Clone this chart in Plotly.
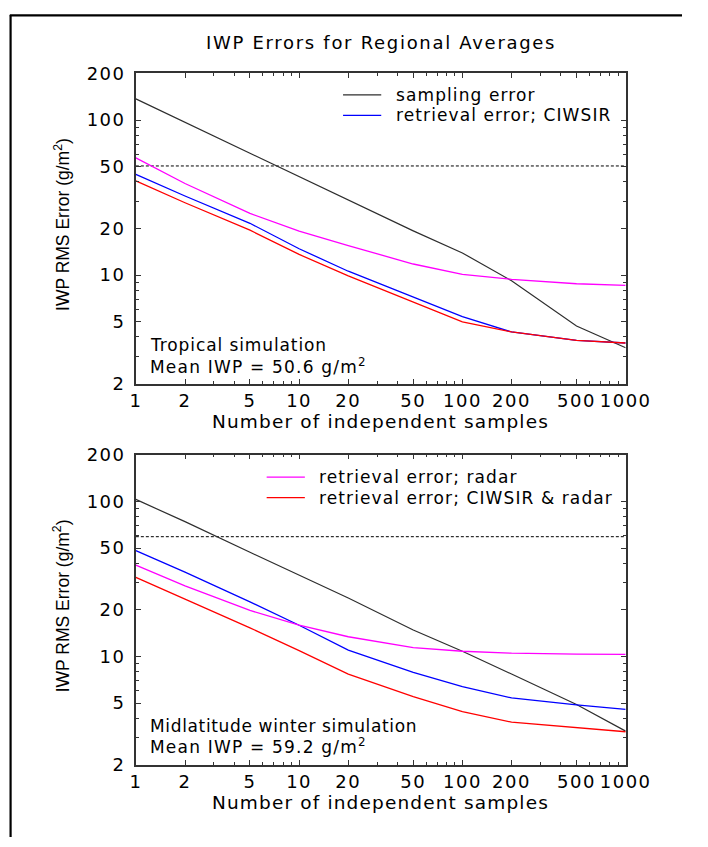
import plotly.graph_objects as go

# ---------------- data ----------------
samples = [1, 2, 5, 10, 20, 50, 100, 200, 500, 1000]

trop_sampling = [137, 97, 61, 43, 30.5, 19.3, 13.9, 9.2, 4.7, 3.4]
trop_ciwsir = [44.7, 32.4, 21.6, 14.8, 10.6, 7.2, 5.4, 4.3, 3.8, 3.65]
trop_radar = [57, 39, 25, 19.2, 15.5, 11.8, 10.1, 9.4, 8.8, 8.6]
trop_combined = [40.6, 29.3, 19.5, 13.6, 9.9, 6.7, 5.0, 4.3, 3.8, 3.65]

mid_sampling = [103, 74, 47, 33.5, 23.8, 14.8, 10.8, 7.7, 4.9, 3.3]
mid_ciwsir = [48.2, 35, 22.5, 15.9, 11.0, 7.9, 6.4, 5.4, 4.87, 4.56]
mid_radar = [38.8, 28.5, 19.8, 15.9, 13.4, 11.4, 10.8, 10.5, 10.35, 10.3]
mid_combined = [32.4, 23.5, 15.3, 10.9, 7.7, 5.5, 4.4, 3.77, 3.47, 3.27]

mean_iwp = [50.6, 59.2]
mean_x = [1, 1000]

x_ticks = [1, 2, 5, 10, 20, 50, 100, 200, 500, 1000]
x_minor = [3, 4, 6, 7, 8, 9, 30, 40, 60, 70, 80, 90, 300, 400, 600, 700, 800, 900]
y_ticks = [2, 5, 10, 20, 50, 100, 200]
y_minor = [3, 4, 6, 7, 8, 9, 30, 40, 60, 70, 80, 90]

title_text = "IWP Errors for Regional Averages"
x_title = "Number of independent samples"
y_title = "IWP RMS Error (g/m<sup>2</sup>)"
series_names = ["sampling error", "retrieval error; CIWSIR",
                "retrieval error; radar", "retrieval error; CIWSIR & radar"]
panel_labels = [["Tropical simulation", "Mean IWP = 50.6 g/m<sup>2</sup>"],
                ["Midlatitude winter simulation", "Mean IWP = 59.2 g/m<sup>2</sup>"]]

# ---------------- styling ----------------
W, H = 708, 847
FONT = "DejaVu Sans, Verdana, sans-serif"
FONT_Y = "Liberation Sans, Arial, Helvetica, sans-serif"
C_SAMP = "#2e2e2e"
C_CIW = "#0000ff"
C_RAD = "#ff00ff"
C_COMB = "#ff0000"
AX = "#333333"


def px(x):
    return x / W


def py(y):
    return 1 - y / H


def ls(text, sp):
    return f'<span style="letter-spacing:{sp}px">{text}</span>'


fig = go.Figure()

panels = [
    ("x", "y", trop_sampling, trop_ciwsir, trop_radar, trop_combined, mean_iwp[0]),
    ("x2", "y2", mid_sampling, mid_ciwsir, mid_radar, mid_combined, mean_iwp[1]),
]
for xa, ya, s, c, r, cb, m in panels:
    fig.add_trace(go.Scatter(x=mean_x, y=[m, m], mode="lines", xaxis=xa, yaxis=ya,
                             line=dict(color="#000000", width=1, dash="3px,2px")))
    fig.add_trace(go.Scatter(x=samples, y=s, mode="lines", xaxis=xa, yaxis=ya,
                             line=dict(color=C_SAMP, width=1.2)))
    fig.add_trace(go.Scatter(x=samples, y=c, mode="lines", xaxis=xa, yaxis=ya,
                             line=dict(color=C_CIW, width=1.3)))
    fig.add_trace(go.Scatter(x=samples, y=r, mode="lines", xaxis=xa, yaxis=ya,
                             line=dict(color=C_RAD, width=1.3)))
    fig.add_trace(go.Scatter(x=samples, y=cb, mode="lines", xaxis=xa, yaxis=ya,
                             line=dict(color=C_COMB, width=1.3)))

tickfont = dict(family=FONT, size=18, color="black")

xcommon = dict(type="log", range=[0, 3], tickmode="array", tickvals=x_ticks,
               ticktext=[ls(str(v), 1.5) for v in x_ticks],
               ticks="inside", ticklen=5, tickwidth=1, tickcolor=AX,
               showline=True, linecolor=AX, linewidth=1.5, mirror="allticks",
               showgrid=False, zeroline=False, tickfont=tickfont,
               ticklabelstandoff=0,
               minor=dict(tickmode="array", tickvals=x_minor, ticks="inside", ticklen=3,
                          tickcolor=AX, tickwidth=1, showgrid=False),
               domain=[px(136), px(649)])
ycommon = dict(type="log", range=[0.30103, 2.30103], tickmode="array", tickvals=y_ticks,
               ticktext=[ls(str(v), 1.5) for v in y_ticks],
               ticks="inside", ticklen=5, tickwidth=1, tickcolor=AX,
               showline=True, linecolor=AX, linewidth=1.5, mirror="allticks",
               showgrid=False, zeroline=False, tickfont=tickfont,
               ticklabelstandoff=5,
               minor=dict(tickmode="array", tickvals=y_minor, ticks="inside", ticklen=3,
                          tickcolor=AX, tickwidth=1, showgrid=False))

fig.update_layout(
    width=W, height=H, margin=dict(l=0, r=0, t=0, b=0),
    paper_bgcolor="white", plot_bgcolor="white", showlegend=False,
    xaxis=dict(xcommon, anchor="y"),
    yaxis=dict(ycommon, anchor="x", domain=[py(382), py(64)]),
    xaxis2=dict(xcommon, anchor="y2"),
    yaxis2=dict(ycommon, anchor="x2", domain=[py(773), py(455)]),
)

ann = []
shapes = []

# frame (top and left edges)
shapes.append(dict(type="line", xref="paper", yref="paper", x0=px(4), x1=1, y0=py(4.5), y1=py(4.5),
                   line=dict(color="black", width=2.2)))
shapes.append(dict(type="line", xref="paper", yref="paper", x0=px(4.8), x1=px(4.8), y0=py(4), y1=0,
                   line=dict(color="black", width=2.2)))

# title
ann.append(dict(text=ls(title_text, 1.7), x=px(393), y=py(32), xref="paper", yref="paper",
                showarrow=False, xanchor="center", yanchor="middle",
                font=dict(family=FONT, size=18, color="black")))

for top, bottom in [(64, 382), (455, 773)]:
    ann.append(dict(text=ls(x_title, 1.15), x=px(392), y=py(bottom + 39), xref="paper", yref="paper",
                    showarrow=False, xanchor="center", yanchor="middle",
                    font=dict(family=FONT, size=18.5, color="black")))
    ann.append(dict(text=y_title, x=px(58), y=py((top + bottom) / 2 - 4), xref="paper", yref="paper",
                    showarrow=False, xanchor="center", yanchor="middle", textangle=-90,
                    font=dict(family=FONT_Y, size=17.5, color="black")))

leg = [
    (353, 393, 406, 86, C_SAMP, series_names[0]),
    (353, 393, 406, 107, C_CIW, series_names[1]),
    (273, 313, 326, 478, C_RAD, series_names[2]),
    (273, 313, 326, 499, C_COMB, series_names[3]),
]
for x0, x1, xt, yy, col, name in leg:
    shapes.append(dict(type="line", xref="paper", yref="paper", x0=px(x0), x1=px(x1),
                       y0=py(yy), y1=py(yy), line=dict(color=col, width=1.3)))
    ann.append(dict(text=ls(name, 1.1), x=px(xt), y=py(yy), xref="paper", yref="paper",
                    showarrow=False, xanchor="left", yanchor="middle",
                    font=dict(family=FONT, size=17, color="black")))

for (l1, l2), y1, sp in zip(panel_labels, [343, 733], [0.9, 0.65]):
    ann.append(dict(text=ls(l1, sp), x=px(149), y=py(y1), xref="paper", yref="paper",
                    showarrow=False, xanchor="left", yanchor="middle",
                    font=dict(family=FONT, size=17, color="black")))
    ann.append(dict(text=ls(l2, 1.2), x=px(149), y=py(y1 + 21), xref="paper", yref="paper",
                    showarrow=False, xanchor="left", yanchor="middle",
                    font=dict(family=FONT, size=17, color="black")))

fig.update_layout(annotations=ann, shapes=shapes)

post = (
    "var s=document.createElement('style');"
    "s.textContent='html,body{margin:0 !important;padding:0 !important;overflow:hidden !important;"
    "width:708px;height:847px;}';"
    "document.head.appendChild(s);"
)

fig.write_html("out.html", config={"displayModeBar": False}, post_script=post)
